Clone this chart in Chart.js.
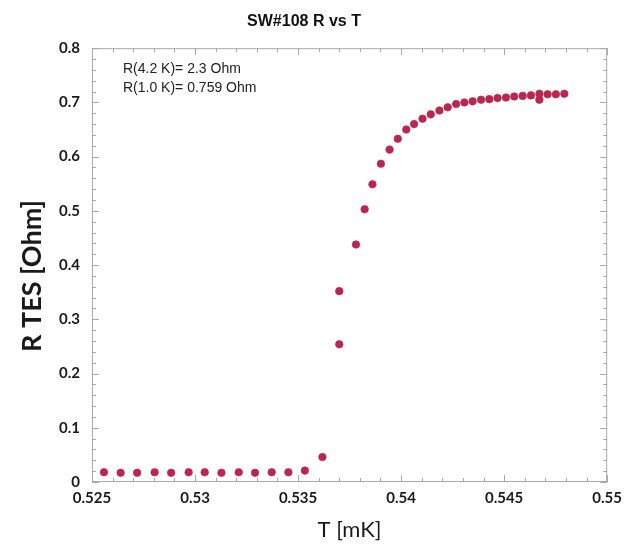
<!DOCTYPE html>
<html>
<head>
<meta charset="utf-8">
<script src="https://cdn.jsdelivr.net/npm/chart.js@4.4.1/dist/chart.umd.min.js"></script>
<style>
  html, body { margin: 0; padding: 0; background: #fff; }
  #wrap { width: 629px; height: 554px; }
</style>
</head>
<body>
<div id="wrap"><canvas id="chart" width="629" height="554"></canvas></div>
<script>
// temperature readings (mK) and TES resistance (Ohm)
var temps = [
  0.52558, 0.52639, 0.52719, 0.52804, 0.52884, 0.52969, 0.53047, 0.53128,
  0.53212, 0.53291, 0.53372, 0.53453, 0.53533, 0.53618,
  0.53700, 0.53700, 0.53781, 0.53823, 0.53861, 0.53902, 0.53944, 0.53984,
  0.54025, 0.54063, 0.54104, 0.54144, 0.54186, 0.54226, 0.54267, 0.54307,
  0.54347, 0.54388, 0.54428, 0.54468, 0.54509, 0.54549, 0.54590, 0.54630,
  0.54671, 0.54671, 0.54711, 0.54751, 0.54792
];
var resist = [
  0.018, 0.017, 0.017, 0.018, 0.017, 0.018, 0.018, 0.017,
  0.018, 0.017, 0.018, 0.018, 0.021, 0.046,
  0.254, 0.352, 0.438, 0.503, 0.549, 0.587, 0.613, 0.633,
  0.650, 0.660, 0.670, 0.678, 0.685, 0.691, 0.697, 0.700,
  0.702, 0.705, 0.706, 0.708, 0.709, 0.711, 0.712, 0.713,
  0.716, 0.705, 0.715, 0.715, 0.716
];
var xTicks = [0.525, 0.53, 0.535, 0.54, 0.545, 0.55];
var yTicks = [0, 0.1, 0.2, 0.3, 0.4, 0.5, 0.6, 0.7, 0.8];
var notes = ['R(4.2 K)= 2.3 Ohm', 'R(1.0 K)= 0.759 Ohm'];
var yTitle = 'R TES [Ohm]';

var points = temps.map(function (t, i) { return { x: t, y: resist[i] }; });

// box around the plot with inward ticks on every side
var framePlugin = {
  id: 'frame',
  beforeDatasetsDraw: function (chart) {
    var ctx = chart.ctx;
    var a = chart.chartArea;
    var sx = chart.scales.x, sy = chart.scales.y;
    ctx.save();
    ctx.strokeStyle = '#a8a8a8';
    ctx.lineWidth = 1;
    ctx.strokeRect(a.left + 0.5, a.top + 0.5, a.right - a.left - 1, a.bottom - a.top - 1);
    ctx.beginPath();
    for (var i = 0; i <= 25; i++) {
      var px = Math.round(sx.getPixelForValue(0.525 + i * 0.001)) + 0.5;
      var len = i % 5 === 0 ? 7 : 4;
      ctx.moveTo(px, a.bottom); ctx.lineTo(px, a.bottom - len);
      ctx.moveTo(px, a.top); ctx.lineTo(px, a.top + len);
    }
    for (var j = 0; j <= 40; j++) {
      var py = Math.round(sy.getPixelForValue(j * 0.02)) + 0.5;
      var len2 = j % 5 === 0 ? 7 : 4;
      ctx.moveTo(a.left, py); ctx.lineTo(a.left + len2, py);
      ctx.moveTo(a.right, py); ctx.lineTo(a.right - len2, py);
    }
    ctx.stroke();

    ctx.fillStyle = '#222';
    ctx.font = '14px "Liberation Sans", Arial, sans-serif';
    ctx.textBaseline = 'middle';
    notes.forEach(function (n, k) {
      ctx.fillText(n, a.left + 31, a.top + 21 + k * 19);
    });

    // y axis title sits a bit below the middle in the original
    ctx.translate(32, 276);
    ctx.rotate(-Math.PI / 2);
    ctx.textAlign = 'center';
    ctx.fillStyle = '#1a1a1a';
    ctx.font = 'bold 27px Lato, "Open Sans", sans-serif';
    ctx.fillText(yTitle, 0, 0);
    ctx.restore();
  }
};

var ctx = document.getElementById('chart').getContext('2d');
var chart = new Chart(ctx, {
  type: 'scatter',
  data: {
    datasets: [{
      data: points,
      backgroundColor: '#d9174c',
      borderColor: '#555',
      borderWidth: 0.6,
      pointRadius: 3.8
    }]
  },
  options: {
    responsive: false,
    animation: false,
    layout: { padding: { top: 0, right: 21, bottom: 0, left: 0 } },
    plugins: {
      legend: { display: false },
      tooltip: { enabled: false },
      title: {
        display: true,
        text: 'SW#108 R vs T',
        color: '#111',
        font: { family: '"Liberation Sans", Arial, sans-serif', size: 16, weight: 'bold', lineHeight: 1.2 },
        padding: { top: 12, bottom: 17 }
      }
    },
    scales: {
      x: {
        type: 'linear',
        min: 0.525,
        max: 0.55,
        afterFit: function (s) { s.height = 72; },
        afterBuildTicks: function (s) { s.ticks = xTicks.map(function (v) { return { value: v }; }); },
        grid: { display: false, drawTicks: false },
        border: { display: false },
        ticks: {
          color: '#1a1a1a',
          padding: 7,
          maxRotation: 0,
          autoSkip: false,
          font: { family: 'Lato, "Open Sans", sans-serif', size: 15, weight: 'bold' },
          callback: function (v) { return String(parseFloat(v.toFixed(4))); }
        },
        title: {
          display: true,
          text: 'T [mK]',
          color: '#1a1a1a',
          font: { family: 'Lato, "Open Sans", sans-serif', size: 22, weight: 'normal', lineHeight: 1.2 },
          padding: { top: 0, bottom: 11 }
        }
      },
      y: {
        min: 0,
        max: 0.8,
        afterFit: function (s) { s.width = 92; },
        afterBuildTicks: function (s) { s.ticks = yTicks.map(function (v) { return { value: v }; }); },
        grid: { display: false, drawTicks: false },
        border: { display: false },
        ticks: {
          color: '#1a1a1a',
          padding: 12,
          font: { family: 'Lato, "Open Sans", sans-serif', size: 15, weight: 'bold' },
          callback: function (v) { return v === 0 ? '0' : v.toFixed(1); }
        }
      }
    }
  },
  plugins: [framePlugin]
});
</script>
</body>
</html>
